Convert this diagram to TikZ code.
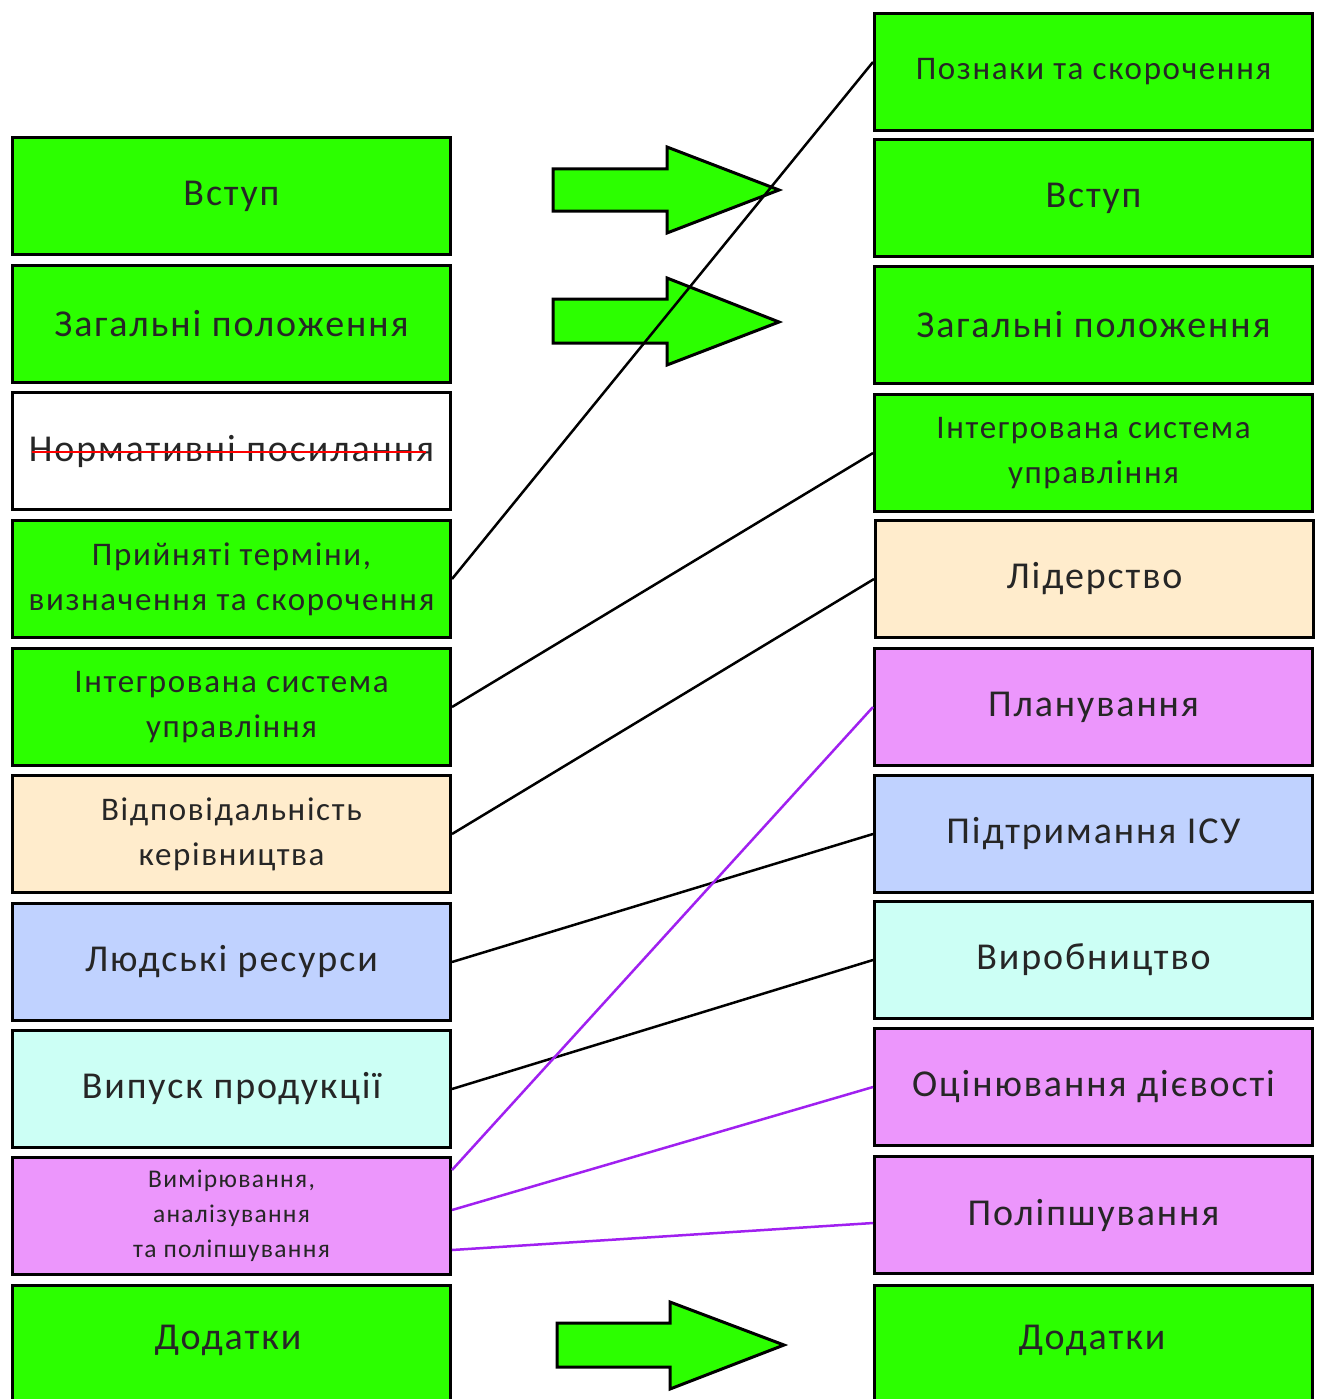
\documentclass[tikz,border=0pt]{standalone}
\usepackage{fontspec}
\setmainfont[LetterSpace=5]{Carlito}
\definecolor{cgreen}{RGB}{44,255,0}
\definecolor{cbeige}{RGB}{255,236,204}
\definecolor{cblue}{RGB}{192,210,255}
\definecolor{ccyan}{RGB}{204,255,245}
\definecolor{cpink}{RGB}{236,150,252}
\definecolor{cpurple}{RGB}{160,32,240}
\begin{document}
\begin{tikzpicture}[x=1pt,y=-1pt,
  box/.style={draw=black,line width=3pt,minimum width=438pt,minimum height=117pt,inner sep=0pt,align=center,anchor=north west,text=black!85,font=\fontsize{38}{40}\selectfont},
  bigtxt/.style={text=black!85,font=\fontsize{38}{40}\selectfont,inner sep=0pt},
  twol/.style={font=\fontsize{33}{45}\selectfont},
  conn/.style={line width=2.5pt,draw=black},
  pconn/.style={line width=2.5pt,draw=cpurple},
  barrow/.style={fill=cgreen,draw=black,line width=3pt,line join=miter}]
\useasboundingbox (0,0) rectangle (1322,1399);
% left column
\node[box,fill=cgreen] (L1) at (11,136) {Вступ};
\node[box,fill=cgreen] (L2) at (11,264) {Загальні положення};
\node[box,fill=white] (L3) at (11,391) {};
\node[bigtxt] (L3t) at (L3.center) {Нормативні посилання};
\node[box,fill=cgreen,twol] (L4) at (11,519) {Прийняті терміни,\\визначення та скорочення};
\node[box,fill=cgreen,twol] (L5) at (11,647) {Інтегрована система\\управління};
\node[box,fill=cbeige,twol] (L6) at (11,774) {Відповідальність\\керівництва};
\node[box,fill=cblue] (L7) at (11,902) {Людські ресурси};
\node[box,fill=ccyan] (L8) at (11,1029) {Випуск продукції};
\node[box,fill=cpink,font=\fontsize{25.5}{35}\selectfont] (L9) at (11,1156) {Вимірювання,\\аналізування\\та поліпшування};
\node[box,fill=cgreen,minimum height=140pt] (L10) at (11,1284) {};
\node[bigtxt] (L10t) at (228,1340) {Додатки};
% strike
\draw[red,line width=2.5pt] ([xshift=3pt,yshift=-1pt]L3t.west) -- ([xshift=-8pt,yshift=-1pt]L3t.east);
% right column
\node[box,fill=cgreen,font=\fontsize{33}{40}\selectfont] (R1) at (873,12) {Познаки та скорочення};
\node[box,fill=cgreen] (R2) at (873,138) {Вступ};
\node[box,fill=cgreen] (R3) at (873,265) {Загальні положення};
\node[box,fill=cgreen,twol] (R4) at (873,393) {Інтегрована система\\управління};
\node[box,fill=cbeige] (R5) at (874,519) {Лідерство};
\node[box,fill=cpink] (R6) at (873,647) {Планування};
\node[box,fill=cblue] (R7) at (873,774) {Підтримання ІСУ};
\node[box,fill=ccyan] (R8) at (873,900) {Виробництво};
\node[box,fill=cpink] (R9) at (873,1027) {Оцінювання дієвості};
\node[box,fill=cpink] (R10) at (873,1155) {Поліпшування};
\node[box,fill=cgreen,minimum height=140pt] (R11) at (873,1284) {};
\node[bigtxt] (R11t) at (1092,1340) {Додатки};
% block arrows
\draw[barrow] (553,169) -- (667,169) -- (667,147) -- (779,190) -- (667,233) -- (667,211) -- (553,211) -- cycle;
\draw[barrow] (553,299) -- (667,299) -- (667,278) -- (779,322) -- (667,365) -- (667,343) -- (553,343) -- cycle;
\draw[barrow] (557,1323) -- (670,1323) -- (670,1302) -- (784,1345) -- (670,1389) -- (670,1367) -- (557,1367) -- cycle;
% connectors
\draw[conn] (L4.east) -- ([yshift=10pt]R1.west);
\draw[conn] (L5.east) -- (R4.west);
\draw[conn] (L6.east) -- (R5.west);
\draw[conn] (L7.east) -- (R7.west);
\draw[conn] (L8.east) -- (R8.west);
\draw[pconn] ([yshift=46pt]L9.east) -- (R6.west);
\draw[pconn] ([yshift=6pt]L9.east) -- (R9.west);
\draw[pconn] ([yshift=-34pt]L9.east) -- ([yshift=-8pt]R10.west);
\end{tikzpicture}
\end{document}
